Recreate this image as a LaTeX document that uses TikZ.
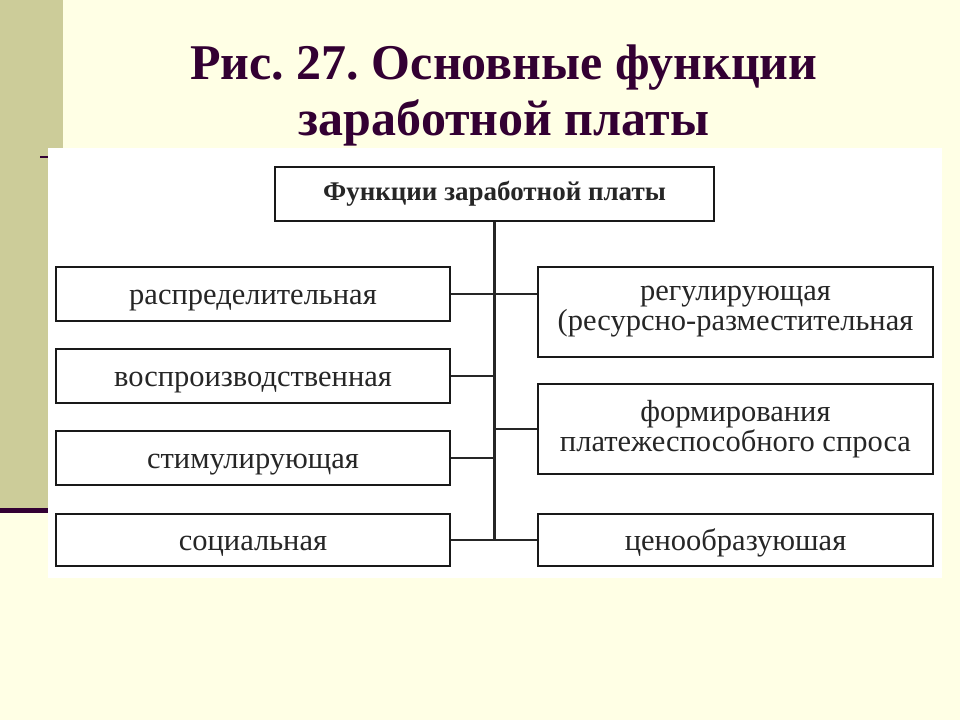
\documentclass[tikz,border=0pt]{standalone}
\usepackage{fontspec}
\setmainfont{Liberation Serif}
\definecolor{bgc}{HTML}{FFFFE5}
\definecolor{olivec}{HTML}{CCCC99}
\definecolor{maroonc}{HTML}{330033}
\newcommand{\lowstrut}{\rule{0pt}{27pt}}
\begin{document}
\frenchspacing
\begin{tikzpicture}[x=1pt,y=-1pt,
  box/.style={draw=black!90, line width=2.8pt, fill=white, inner sep=0pt, align=center,
    font=\fontsize{30.5}{30}\selectfont, text=black!85},
  link/.style={line width=2.2pt, draw=black!85},
  titletext/.style={font=\fontsize{50}{55}\selectfont\bfseries, text=maroonc, anchor=base, inner sep=0pt}]
\fill[bgc] (0,0) rectangle (960,720);
\useasboundingbox (0,0) rectangle (960,720);
\fill[olivec] (0,0) rectangle (63,508);
\fill[maroonc] (0,508) rectangle (63,513);
\fill[white] (48,148) rectangle (942,578);
\fill[maroonc] (40,156) rectangle (48,158);
\node[titletext] (t1) at (504,79) {Рис. 27. Основные функции};
\node[titletext] (t2) at (504,135) {заработной платы};
\node[box, minimum width=439pt, minimum height=54pt, font=\fontsize{27}{28}\selectfont\bfseries] (top) at (494.5,194) {Функции заработной платы};
\node[box, minimum width=394pt, minimum height=54pt] (L1) at (253,294) {\lowstrut распределительная};
\node[box, minimum width=394pt, minimum height=54pt] (L2) at (253,376) {\lowstrut воспроизводственная};
\node[box, minimum width=394pt, minimum height=54pt] (L3) at (253,458) {\lowstrut стимулирующая};
\node[box, minimum width=394pt, minimum height=52pt] (L4) at (253,540) {\lowstrut социальная};
\node[box, minimum width=395pt, minimum height=90pt] (R1) at (735.5,312) {регулирующая\\(ресурсно-разместительная};
\node[box, minimum width=395pt, minimum height=90pt] (R2) at (735.5,429) {формирования\\платежеспособного спроса};
\node[box, minimum width=395pt, minimum height=52pt] (R3) at (735.5,540) {\lowstrut ценообразуюшая};
\draw[link] (top.south) -- (top.south |- L4.east);
\draw[link] (L1.east) -- (R1.west |- L1.east);
\draw[link] (L2.east) -- (L2.east -| top.south);
\draw[link] (R2.west) -- (R2.west -| top.south);
\draw[link] (L3.east) -- (L3.east -| top.south);
\draw[link] (L4.east) -- (R3.west);
\end{tikzpicture}
\end{document}
